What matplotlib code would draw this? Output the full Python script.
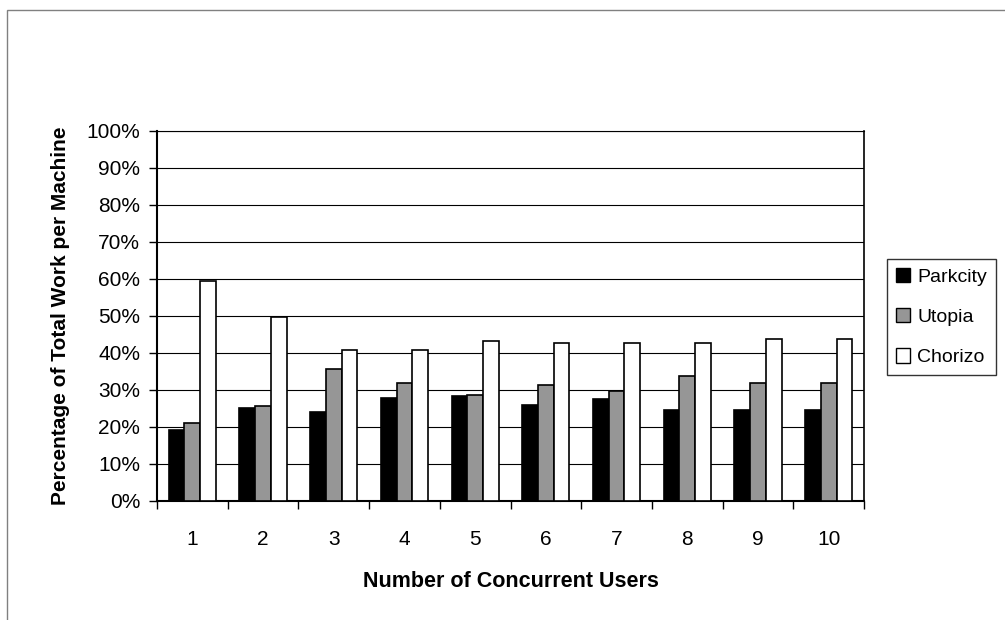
import matplotlib
matplotlib.use("Agg")
import matplotlib.pyplot as plt
from matplotlib.patches import Rectangle, Patch
from matplotlib.ticker import FixedLocator, PercentFormatter
import numpy as np

plt.rcParams['font.family'] = ['Liberation Sans', 'DejaVu Sans']

users = ['1', '2', '3', '4', '5', '6', '7', '8', '9', '10']
parkcity = [19.0, 25.0, 24.0, 27.7, 28.4, 26.0, 27.6, 24.5, 24.5, 24.5]
utopia = [21.0, 25.5, 35.7, 31.8, 28.7, 31.3, 29.7, 33.6, 31.8, 31.8]
chorizo = [59.5, 49.8, 40.7, 40.7, 43.3, 42.7, 42.7, 42.7, 43.7, 43.7]

series = [('Parkcity', parkcity, 'black'),
          ('Utopia', utopia, '#969696'),
          ('Chorizo', chorizo, 'white')]

W, H = 1005, 620
fig = plt.figure(figsize=(W / 100, H / 100), dpi=100)
# outer chart border
fig.patches.append(Rectangle((7 / W, -0.1), 1.2, 1 - 10 / H + 0.1,
                             transform=fig.transFigure, fill=False,
                             edgecolor='#808080', lw=1))

ax = fig.add_axes([157 / W, 1 - 500.7 / H, (864 - 157) / W, (500.7 - 131) / H])

x = np.arange(len(users))
bw = 1 / 4.5
for i, (name, vals, col) in enumerate(series):
    ax.bar(x + (i - 1) * bw, vals, width=bw, color=col, edgecolor='black',
           linewidth=1.2, label=name, zorder=3)

ax.set_xlim(-0.5, len(users) - 0.5)
ax.set_ylim(0, 100)
ax.yaxis.set_major_locator(FixedLocator(np.arange(0, 101, 10)))
ax.yaxis.set_major_formatter(PercentFormatter(decimals=0))
ax.yaxis.grid(True, color='black', lw=0.8, zorder=0)

ax.set_xticks(x)
ax.set_xticklabels(users)
ax.xaxis.set_minor_locator(FixedLocator(np.arange(-0.5, len(users), 1)))
ax.tick_params(axis='x', which='major', length=0, pad=21, labelsize=15)
ax.tick_params(axis='x', which='minor', length=6, width=1, direction='out')
ax.tick_params(axis='y', length=6, width=1, direction='out', pad=6, labelsize=15)

for s in ['left', 'bottom']:
    ax.spines[s].set_linewidth(1.5)
ax.spines['top'].set_linewidth(0.8)
ax.spines['right'].set_linewidth(1.2)

ax.set_xlabel('Number of Concurrent Users', fontsize=15.5, fontweight='bold', labelpad=16)
ax.set_ylabel('Percentage of Total Work per Machine', fontsize=15, fontweight='bold', labelpad=12)

handles = [Patch(facecolor=c, edgecolor='black', label=n) for n, v, c in series]
leg = fig.legend(handles=handles, loc='upper left',
                 bbox_to_anchor=(887 / W, 1 - 259 / H), fontsize=14,
                 frameon=True, fancybox=False, edgecolor='black',
                 handlelength=0.75, handleheight=0.75, handletextpad=0.35,
                 labelspacing=1.15, borderpad=0.45, borderaxespad=0)
leg.get_frame().set_linewidth(1)

fig.savefig('out.png', dpi=100)
